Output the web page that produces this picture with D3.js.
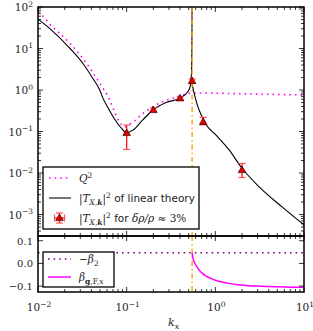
<!DOCTYPE html>
<html>
<head>
<meta charset="utf-8">
<script src="https://cdn.jsdelivr.net/npm/d3@7"></script>
<style>
  body { margin: 0; background: #fff; }
  svg { display: block; }
</style>
</head>
<body>
<div id="chart"></div>
<script>
// Two stacked panels sharing a log k_x axis

// Q^2 (dotted magenta)
const qK   = [0.01, 0.011, 0.0136, 0.0229, 0.0352, 0.0497, 0.0645, 0.073, 0.083, 0.095, 0.118, 0.152, 0.215, 0.29, 0.4, 0.51, 0.7, 1, 2, 5, 10];
const qVal = [75, 64, 39, 13.3, 4.4, 1.45, 0.57, 0.30, 0.17, 0.13, 0.17, 0.27, 0.44, 0.58, 0.72, 0.83, 0.85, 0.84, 0.81, 0.78, 0.76];

// |T|^2 of linear theory, left and right of the resonance
const linLeftK  = [0.01, 0.0135, 0.0229, 0.032, 0.0415, 0.0497, 0.0542, 0.0587, 0.07, 0.0872, 0.0995, 0.118, 0.152, 0.198, 0.279, 0.395, 0.489, 0.52, 0.54, 0.545, 0.547];
const linLeftT  = [51, 30.6, 10.1, 4.4, 1.9, 1.0, 0.62, 0.45, 0.23, 0.12, 0.094, 0.108, 0.19, 0.33, 0.5, 0.63, 0.91, 1.2, 3, 20, 200];
const linRightK = [0.547, 0.56, 0.576, 0.6, 0.63, 0.66, 0.72, 0.8, 1.0, 1.43, 2.0, 3.1, 5.7, 10];
const linRightT = [1.45, 1.1, 0.85, 0.6, 0.42, 0.32, 0.21, 0.14, 0.085, 0.036, 0.013, 0.0047, 0.0015, 0.00056];

// simulation points, delta rho / rho ~ 3%
const ptK  = [0.1, 0.2, 0.4, 0.547, 0.73, 2.0];
const ptT  = [0.092, 0.33, 0.63, 1.65, 0.17, 0.0118];
const ptLo = [0.037, 0.30, 0.58, 1.45, 0.145, 0.0078];
const ptHi = [0.143, 0.37, 0.68, 1.85, 0.22, 0.017];

// lower panel
const beta2 = 0.047;
const betaK   = [0.547, 0.56, 0.58, 0.62, 0.66, 0.72, 0.79, 0.9, 1.0, 1.2, 1.43, 1.8, 2.2, 3, 4, 6, 10];
const betaVal = [0.047, 0.022, 0.005, -0.015, -0.03, -0.045, -0.056, -0.067, -0.074, -0.082, -0.088, -0.094, -0.097, -0.100, -0.102, -0.104, -0.105];

const kRes = 0.547;
const xTickExp = [-2, -1, 0, 1];
const yTopExp = [-3, -2, -1, 0, 1, 2];
const yBotTicks = [0.1, 0.0, -0.1];

const W = 313, H = 331;
const left = 38, right = 304;
const top1 = 7, bot1 = 236, top2 = 236, bot2 = 292;
const serif = "'DejaVu Serif', serif";
const sans = "'DejaVu Sans', sans-serif";
const purple = "#800080";

const svg = d3.select("#chart").append("svg")
  .attr("width", W).attr("height", H);

const x = d3.scaleLog().domain([0.01, 10]).range([left, right]);
const y1 = d3.scaleLog().domain([Math.pow(10, -3.518), 100]).range([bot1, top1]);
const y2 = d3.scaleLinear().domain([-0.126, 0.121]).range([bot2, top2]);

const defs = svg.append("defs");
defs.append("clipPath").attr("id", "c1").append("rect")
  .attr("x", left).attr("y", top1).attr("width", right - left).attr("height", bot1 - top1);
defs.append("clipPath").attr("id", "c2").append("rect")
  .attr("x", left).attr("y", top2).attr("width", right - left).attr("height", bot2 - top2);

const g1 = svg.append("g").attr("clip-path", "url(#c1)");
const g2 = svg.append("g").attr("clip-path", "url(#c2)");

const zip = (a, b) => a.map((v, i) => [v, b[i]]);
const line1 = d3.line().x(d => x(d[0])).y(d => y1(d[1])).curve(d3.curveMonotoneX);
const line2 = d3.line().x(d => x(d[0])).y(d => y2(d[1])).curve(d3.curveMonotoneX);

// ---- top panel
g1.append("path").attr("d", line1(zip(qK, qVal)))
  .attr("fill", "none").attr("stroke", "#ff00ff").attr("stroke-width", 1.6)
  .attr("stroke-dasharray", "1.6,4");

g1.append("path").attr("d", line1(zip(linLeftK, linLeftT)))
  .attr("fill", "none").attr("stroke", "#000").attr("stroke-width", 1.1);
g1.append("path").attr("d", line1(zip(linRightK, linRightT)))
  .attr("fill", "none").attr("stroke", "#000").attr("stroke-width", 1.1);

// resonance line through both panels
[[g1, top1, bot1], [g2, top2, bot2]].forEach(([g, a, b]) => {
  g.append("line").attr("x1", x(kRes)).attr("x2", x(kRes)).attr("y1", a).attr("y2", b)
    .attr("stroke", "#ffa500").attr("stroke-width", 1.4)
    .attr("stroke-dasharray", "5,3,1.5,3");
});

function errMark(g, cx, cy, yLo, yHi, xHalf) {
  g.append("line").attr("x1", cx).attr("x2", cx).attr("y1", yLo).attr("y2", yHi)
    .attr("stroke", "#ff0000").attr("stroke-width", 1.2);
  [yLo, yHi].forEach(v => g.append("line")
    .attr("x1", cx - 3.5).attr("x2", cx + 3.5).attr("y1", v).attr("y2", v)
    .attr("stroke", "#ff5050").attr("stroke-width", 1.2));
  if (xHalf) {
    g.append("line").attr("x1", cx - xHalf).attr("x2", cx + xHalf).attr("y1", cy).attr("y2", cy)
      .attr("stroke", "#ff0000").attr("stroke-width", 1.2);
    [cx - xHalf, cx + xHalf].forEach(v => g.append("line")
      .attr("x1", v).attr("x2", v).attr("y1", cy - 3.5).attr("y2", cy + 3.5)
      .attr("stroke", "#ff5050").attr("stroke-width", 1.2));
  }
  g.append("path")
    .attr("d", `M${cx},${cy - 4} L${cx + 3.8},${cy + 2.6} L${cx - 3.8},${cy + 2.6} Z`)
    .attr("fill", "#e00000").attr("stroke", "#400").attr("stroke-width", 0.7);
}
ptK.forEach((k, i) => errMark(g1, x(k), y1(ptT[i]), y1(ptLo[i]), y1(ptHi[i]), 0));

// ---- bottom panel
g2.append("line").attr("x1", x(0.01)).attr("x2", x(10)).attr("y1", y2(beta2)).attr("y2", y2(beta2))
  .attr("stroke", purple).attr("stroke-width", 1.6).attr("stroke-dasharray", "1.6,4");
g2.append("path").attr("d", line2(zip(betaK, betaVal)))
  .attr("fill", "none").attr("stroke", "#ff00ff").attr("stroke-width", 1.5);

// ---- ticks
const axes = svg.append("g").attr("stroke", "#000");
const minorK = [];
for (let e = -2; e < 1; e++) for (let m = 2; m <= 9; m++) minorK.push(m * Math.pow(10, e));
const minorT = [];
for (let e = -4; e < 2; e++) for (let m = 2; m <= 9; m++) {
  const v = m * Math.pow(10, e);
  if (v > y1.domain()[0] && v < 100) minorT.push(v);
}

function vtick(xp, yp, len) {
  axes.append("line").attr("x1", xp).attr("x2", xp).attr("y1", yp).attr("y2", yp + len).attr("stroke-width", 0.8);
}
function htick(xp, yp, len) {
  axes.append("line").attr("x1", xp).attr("x2", xp + len).attr("y1", yp).attr("y2", yp).attr("stroke-width", 0.8);
}
[[top1, 1], [bot1, -1], [top2, 1], [bot2, -1]].forEach(([yy, s]) => {
  xTickExp.forEach(e => vtick(x(Math.pow(10, e)), yy, 5 * s));
  minorK.forEach(k => vtick(x(k), yy, 3 * s));
});
yTopExp.forEach(e => { htick(left, y1(Math.pow(10, e)), 5); htick(right, y1(Math.pow(10, e)), -5); });
minorT.forEach(v => { htick(left, y1(v), 3); htick(right, y1(v), -3); });
yBotTicks.forEach(v => { htick(left, y2(v), 5); htick(right, y2(v), -5); });

svg.append("rect").attr("x", left).attr("y", top1).attr("width", right - left).attr("height", bot1 - top1)
  .attr("fill", "none").attr("stroke", "#000").attr("stroke-width", 1.5);
svg.append("rect").attr("x", left).attr("y", top2).attr("width", right - left).attr("height", bot2 - top2)
  .attr("fill", "none").attr("stroke", "#000").attr("stroke-width", 1.5);

// ---- tick labels
const lab = svg.append("g").attr("fill", "#222").attr("font-family", serif);
function powLabel(xp, yp, e, anchor) {
  const t = lab.append("text").attr("x", xp).attr("y", yp).attr("text-anchor", anchor)
    .attr("font-size", 10.5);
  t.append("tspan").text("10");
  t.append("tspan").attr("dy", -4.5).attr("font-size", 7.5).text(e < 0 ? "\u2212" + (-e) : e);
}
yTopExp.forEach(e => powLabel(33, y1(Math.pow(10, e)) + 4, e, "end"));
xTickExp.forEach(e => powLabel(x(Math.pow(10, e)) + 1, 311, e, "middle"));
yBotTicks.forEach(v => lab.append("text").attr("x", 33).attr("y", y2(v) + 3.8)
  .attr("text-anchor", "end").attr("font-size", 10)
  .text(v === 0 ? "0.0" : (v < 0 ? "\u2212" : "") + Math.abs(v).toFixed(1)));

const kl = lab.append("text").attr("x", 168).attr("y", 326).attr("font-size", 11);
kl.append("tspan").attr("font-style", "italic").text("k");
kl.append("tspan").attr("font-style", "italic").attr("font-size", 8).attr("dy", 2.5).text("x");

// ---- legends (boxes first, then samples and text on top)
function legendBox(x0, y0, w, h) {
  svg.append("rect").attr("x", x0).attr("y", y0).attr("width", w).attr("height", h)
    .attr("fill", "#fff").attr("stroke", "#000").attr("stroke-width", 1.3);
}
legendBox(43, 167, 156, 62);
legendBox(43, 252, 71, 35);

function tLabel(t) {
  t.append("tspan").attr("font-family", serif).text("|");
  t.append("tspan").attr("font-family", serif).attr("font-style", "italic").text("T");
  t.append("tspan").attr("font-family", serif).attr("font-style", "italic").attr("font-size", 7.5).attr("dy", 2.5).text("X,");
  t.append("tspan").attr("font-family", serif).attr("font-style", "italic").attr("font-weight", "bold").attr("font-size", 7.5).text("k");
  t.append("tspan").attr("font-family", serif).attr("dy", -2.5).text("|");
  t.append("tspan").attr("font-family", serif).attr("font-size", 7.5).attr("dy", -4.5).text("2");
  return t.append("tspan").attr("dy", 4.5).attr("font-family", sans);
}

const ly = [178, 198, 218];
svg.append("line").attr("x1", 49).attr("x2", 71).attr("y1", ly[0]).attr("y2", ly[0])
  .attr("stroke", "#ff00ff").attr("stroke-width", 1.6).attr("stroke-dasharray", "1.6,4");
svg.append("line").attr("x1", 49).attr("x2", 71).attr("y1", ly[1]).attr("y2", ly[1])
  .attr("stroke", "#555").attr("stroke-width", 1.6);
errMark(svg, 59.5, ly[2], ly[2] + 5, ly[2] - 5, 5);

const lt = svg.append("g").attr("fill", "#222").attr("font-size", 10.5);
const q = lt.append("text").attr("x", 79).attr("y", ly[0] + 4).attr("font-family", serif);
q.append("tspan").attr("font-style", "italic").text("Q");
q.append("tspan").attr("font-size", 7.5).attr("dy", -4.5).text("2");
tLabel(lt.append("text").attr("x", 79).attr("y", ly[1] + 4)).text(" of linear theory");
const t3 = lt.append("text").attr("x", 79).attr("y", ly[2] + 4);
tLabel(t3).text(" for ");
t3.append("tspan").attr("font-family", serif).attr("font-style", "italic").text("\u03b4\u03c1/\u03c1");
t3.append("tspan").attr("font-family", serif).text(" \u2248 3%");

const by = [259, 277];
svg.append("line").attr("x1", 48).attr("x2", 71).attr("y1", by[0]).attr("y2", by[0])
  .attr("stroke", purple).attr("stroke-width", 1.6).attr("stroke-dasharray", "1.6,4");
svg.append("line").attr("x1", 48).attr("x2", 71).attr("y1", by[1]).attr("y2", by[1])
  .attr("stroke", "#ff00ff").attr("stroke-width", 1.5);
const b1 = lt.append("text").attr("x", 79).attr("y", by[0] + 4).attr("font-family", serif);
b1.append("tspan").text("\u2212");
b1.append("tspan").attr("font-style", "italic").text("\u03b2");
b1.append("tspan").attr("font-size", 7.5).attr("dy", 2.5).text("2");
const b2 = lt.append("text").attr("x", 79).attr("y", by[1] + 4).attr("font-family", serif);
b2.append("tspan").attr("font-style", "italic").text("\u03b2");
b2.append("tspan").attr("font-size", 7.5).attr("dy", 2.5).attr("font-weight", "bold").text("g");
b2.append("tspan").attr("font-size", 7.5).text(",F,");
b2.append("tspan").attr("font-size", 7.5).attr("font-style", "italic").text("x");
</script>
</body>
</html>
